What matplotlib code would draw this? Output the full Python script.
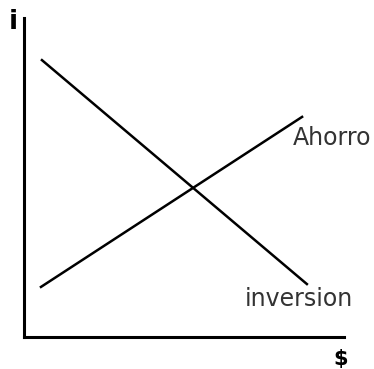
import matplotlib
matplotlib.use('Agg')
import matplotlib.pyplot as plt

# curve end points, in chart units (x = quantity $, y = interest rate i)
ahorro_x = [0.53, 8.69]
ahorro_y = [1.57, 6.90]
inversion_x = [0.56, 8.84]
inversion_y = [8.68, 1.66]

curve_labels = ['Ahorro', 'inversion']
label_x = [8.41, 6.91]
label_y = [6.24, 1.19]

fig = plt.figure(figsize=(3.74, 3.69), dpi=100)
ax = fig.add_axes([0.0642, 0.0867, 0.8556, 0.8645])

ax.plot(ahorro_x, ahorro_y, color='black', linewidth=1.8)
ax.plot(inversion_x, inversion_y, color='black', linewidth=1.8)
for lab, lx, ly in zip(curve_labels, label_x, label_y):
    ax.text(lx, ly, lab, fontsize=17, va='center', ha='left', color='#333333')

ax.set_xlim(0, 10)
ax.set_ylim(0, 10)
ax.set_xticks([])
ax.set_yticks([])
ax.spines['top'].set_visible(False)
ax.spines['right'].set_visible(False)
ax.spines['left'].set_linewidth(2.2)
ax.spines['bottom'].set_linewidth(2.2)
ax.patch.set_alpha(0)

fig.text(13 / 374, 1 - 22 / 369, 'i', fontsize=19, fontweight='bold', ha='center', va='center')
fig.text(341 / 374, 1 - 359 / 369, '$', fontsize=15, fontweight='bold', ha='center', va='center')

fig.savefig('out.png', dpi=100)
